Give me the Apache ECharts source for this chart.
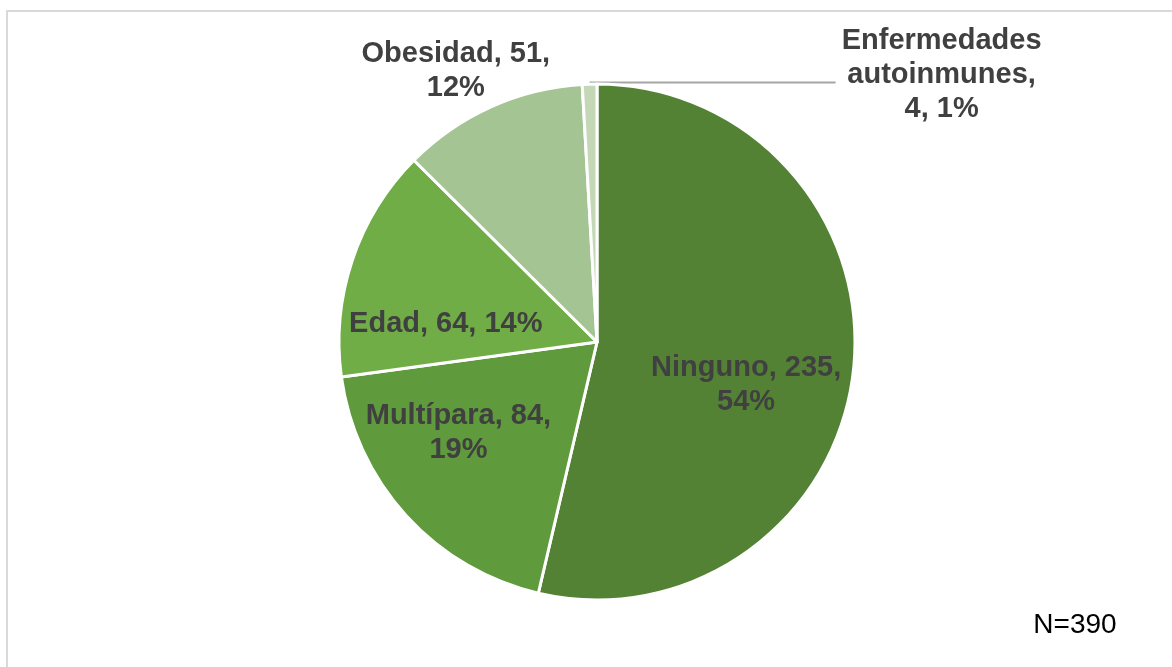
<!DOCTYPE html>
<html>
<head>
<meta charset="utf-8">
<script src="https://cdn.jsdelivr.net/npm/echarts@6/dist/echarts.min.js"></script>
<style>
  html, body { margin: 0; padding: 0; background: #ffffff; }
  #chart { width: 1172px; height: 667px; }
</style>
</head>
<body>
<div id="chart"></div>
<script>
// Factores de riesgo (conteos por categoría)
const categories = ['Ninguno', 'Multípara', 'Edad', 'Obesidad', 'Enfermedades autoinmunes'];
const counts = [235, 84, 64, 51, 4];
const sampleNote = 'N=390';

const sliceColors = ['#548235', '#5f9a3c', '#70ad47', '#a4c493', '#c4d8b7'];

// Label placement: line breaks and nudges for each slice
const labelBreaks = [true, true, false, true, true];
const labelOffsets = [[18, 28], [-41, 2], [-26, 24], [-87, -151], null];

function labelText(p) {
  const i = p.dataIndex;
  if (i === 4) return p.name.replace(' ', '\n') + ',\n' + p.value + ', ' + p.percent + '%';
  const sep = labelBreaks[i] ? ',\n' : ', ';
  return p.name + ', ' + p.value + sep + p.percent + '%';
}

const data = categories.map((name, i) => {
  const item = {
    name: name,
    value: counts[i],
    itemStyle: { color: sliceColors[i] }
  };
  if (labelOffsets[i]) {
    item.label = { position: 'inside', offset: labelOffsets[i] };
    item.labelLine = { show: false };
  } else {
    item.label = { position: 'outside' };
    item.labelLine = { show: true, lineStyle: { color: '#a6a6a6', width: 2 } };
  }
  return item;
});

const chart = echarts.init(document.getElementById('chart'), null, { renderer: 'canvas' });

chart.setOption({
  backgroundColor: '#ffffff',
  animation: false,
  graphic: [
    {
      type: 'rect',
      z: -10,
      shape: { x: 7, y: 11, width: 1200, height: 700 },
      style: { fill: 'none', stroke: '#d9d9d9', lineWidth: 2 },
      silent: true
    },
    {
      type: 'text',
      x: 1075,
      y: 625,
      style: {
        text: sampleNote,
        fill: '#000000',
        font: '28px "Liberation Sans", Arial, sans-serif',
        align: 'center',
        verticalAlign: 'middle'
      }
    }
  ],
  series: [
    {
      type: 'pie',
      center: [597, 342],
      radius: [0, 258],
      startAngle: 90,
      clockwise: true,
      percentPrecision: 0,
      avoidLabelOverlap: false,
      itemStyle: { borderColor: '#ffffff', borderWidth: 3 },
      label: {
        show: true,
        formatter: labelText,
        color: '#404040',
        fontFamily: '"Liberation Sans", Arial, sans-serif',
        fontWeight: 'bold',
        fontSize: 29,
        lineHeight: 34,
        align: 'center'
      },
      emphasis: { disabled: true },
      labelLayout: function (params) {
        if (params.dataIndex !== 4) return {};
        const r = params.rect;
        const sx = r.x + r.width / 2;
        const sy = r.y;
        const ex = sx + 246;
        return {
          x: sx + 352,
          y: sy - 8,
          align: 'center',
          verticalAlign: 'middle',
          labelLinePoints: [[sx, sy], [sx + 120, sy], [ex, sy]]
        };
      },
      data: data
    }
  ]
});
</script>
</body>
</html>
